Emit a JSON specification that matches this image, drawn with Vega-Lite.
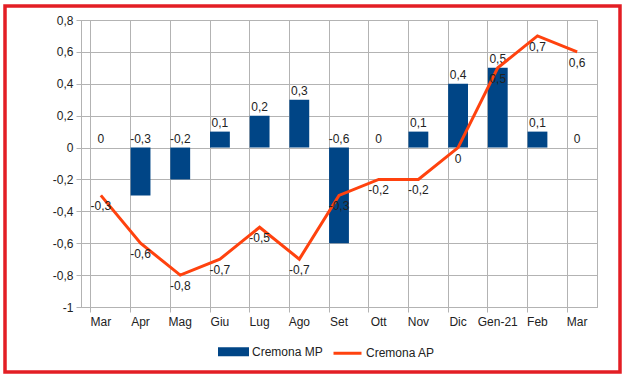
{
  "$schema": "https://vega.github.io/schema/vega-lite/v6.json",
  "width": 516,
  "height": 287,
  "autosize": {"type": "none"},
  "padding": {"left": 81, "top": 20, "right": 33, "bottom": 77},
  "background": "white",
  "config": {
    "locale": {"number": {"decimal": ",", "thousands": ".", "grouping": [3], "currency": ["€", ""], "minus": "-"}},
    "font": "Liberation Sans",
    "view": {"stroke": "#b3b3b3", "strokeWidth": 1},
    "axis": {"labelFont": "Liberation Sans", "labelFontSize": 12, "labelColor": "#222", "gridColor": "#b3b3b3", "domainColor": "#b3b3b3", "tickColor": "#b3b3b3", "tickSize": 5, "title": null, "labelOverlap": false, "labelFlush": false}
  },
  "data": {"values": [
    {"periodo": "Mar-20", "mp": 0, "ap": -0.3},
    {"periodo": "Apr", "mp": -0.3, "ap": -0.6},
    {"periodo": "Mag", "mp": -0.2, "ap": -0.8},
    {"periodo": "Giu", "mp": 0.1, "ap": -0.7},
    {"periodo": "Lug", "mp": 0.2, "ap": -0.5},
    {"periodo": "Ago", "mp": 0.3, "ap": -0.7},
    {"periodo": "Set", "mp": -0.6, "ap": -0.3},
    {"periodo": "Ott", "mp": 0, "ap": -0.2},
    {"periodo": "Nov", "mp": 0.1, "ap": -0.2},
    {"periodo": "Dic", "mp": 0.4, "ap": 0},
    {"periodo": "Gen-21", "mp": 0.5, "ap": 0.5},
    {"periodo": "Feb", "mp": 0.1, "ap": 0.7},
    {"periodo": "Mar-21", "mp": 0, "ap": 0.6}
  ]},
  "encoding": {
    "x": {
      "field": "periodo", "type": "nominal", "sort": null,
      "scale": {"paddingInner": 0.5, "paddingOuter": 0.25},
      "axis": {"labelAngle": 0, "bandPosition": 0, "grid": true, "labelPadding": 4,
               "labelExpr": "(datum.label == 'Mar-20' || datum.label == 'Mar-21') ? 'Mar' : datum.label"}
    }
  },
  "layer": [
    {
      "mark": {"type": "bar"},
      "encoding": {
        "y": {"field": "mp", "type": "quantitative",
              "scale": {"domain": [-1, 0.8], "nice": false},
              "axis": {"values": [-1, -0.8, -0.6, -0.4, -0.2, 0, 0.2, 0.4, 0.6, 0.8], "tickCount": 20, "format": ".1~f", "labelPadding": 3, "grid": true}},
        "color": {"datum": "Cremona MP", "type": "nominal",
                  "scale": {"domain": ["Cremona MP", "Cremona AP"], "range": ["#004586", "#ff420e"]},
                  "legend": {"title": null, "orient": "none", "legendX": 137, "legendY": 316, "direction": "horizontal",
                             "labelFont": "Liberation Sans", "labelFontSize": 12, "labelColor": "#222",
                             "symbolSize": 784, "labelOffset": 3, "columnPadding": 4,
                             "encode": {"symbols": {"update": {
                               "shape": {"signal": "datum.value == 'Cremona MP' ? 'M-1,-0.22H1V0.22H-1Z' : 'M-1,0H1'"},
                               "fill": {"signal": "datum.value == 'Cremona MP' ? '#004586' : 'transparent'"},
                               "stroke": {"signal": "datum.value == 'Cremona MP' ? 'transparent' : '#ff420e'"},
                               "strokeWidth": {"value": 3}
                             }}}}}
      }
    },
    {
      "transform": [{"filter": "datum.mp >= 0"}],
      "mark": {"type": "text", "dy": -9, "fontSize": 12, "color": "#222", "font": "Liberation Sans"},
      "encoding": {
        "y": {"field": "mp", "type": "quantitative"},
        "text": {"field": "mp", "type": "quantitative", "format": ".1~f"}
      }
    },
    {
      "transform": [{"filter": "datum.mp < 0"}],
      "mark": {"type": "text", "dy": -9, "fontSize": 12, "color": "#222", "font": "Liberation Sans"},
      "encoding": {
        "y": {"datum": 0, "type": "quantitative"},
        "text": {"field": "mp", "type": "quantitative", "format": ".1~f"}
      }
    },
    {
      "mark": {"type": "line", "strokeWidth": 3, "strokeJoin": "miter"},
      "encoding": {
        "y": {"field": "ap", "type": "quantitative"},
        "color": {"datum": "Cremona AP", "type": "nominal"}
      }
    },
    {
      "mark": {"type": "text", "dy": 11, "fontSize": 12, "color": "#222", "font": "Liberation Sans"},
      "encoding": {
        "y": {"field": "ap", "type": "quantitative"},
        "text": {"field": "ap", "type": "quantitative", "format": ".1~f"}
      }
    },
    {
      "data": {"values": [{"frame": 1}]},
      "mark": {"type": "rect", "filled": false, "stroke": "#e31e24", "strokeWidth": 3.5, "clip": false},
      "encoding": {
        "x": {"value": -76},
        "x2": {"value": 539},
        "y": {"value": -14},
        "y2": {"value": 352}
      }
    }
  ]
}
